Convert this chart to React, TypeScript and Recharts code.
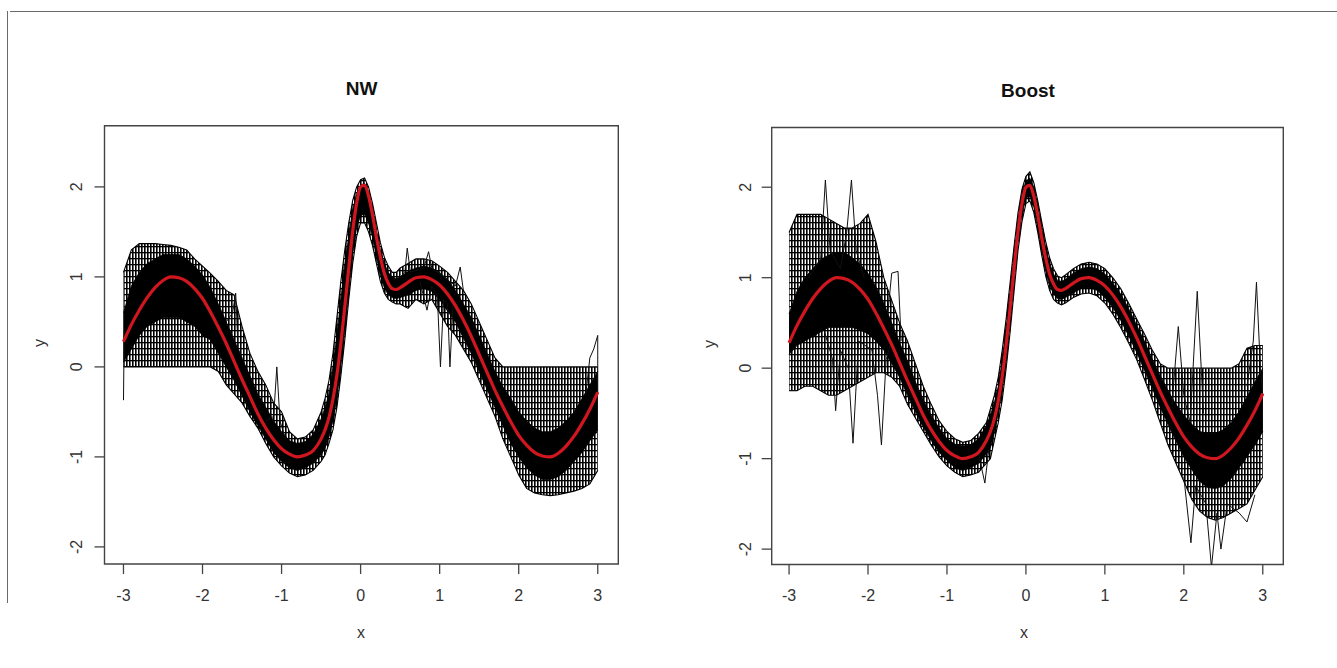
import React from 'react';
import { ComposedChart, Area, Line, XAxis, YAxis, ReferenceArea } from 'recharts';

// x grid (finer around the peak)
const xs = [
  -3.0, -2.9, -2.8, -2.7, -2.6, -2.5, -2.4, -2.3, -2.2, -2.1, -2.0, -1.9, -1.8, -1.7, -1.6, -1.5, -1.4, -1.3, -1.2, -1.1,
  -1.0, -0.9, -0.8, -0.7, -0.6, -0.5, -0.45, -0.4, -0.35, -0.3, -0.25, -0.2, -0.15, -0.1, -0.05, 0, 0.05, 0.1, 0.15, 0.2,
  0.25, 0.3, 0.35, 0.4, 0.45, 0.5, 0.6, 0.7, 0.8, 0.9, 1.0, 1.1, 1.2, 1.3, 1.4, 1.5, 1.6, 1.7, 1.8, 1.9,
  2.0, 2.1, 2.2, 2.3, 2.4, 2.5, 2.6, 2.7, 2.8, 2.9, 3.0,
];

// red curve (true function)
const trueCurve = [
  0.28, 0.47, 0.63, 0.77, 0.88, 0.96, 1.0, 0.99, 0.95, 0.87, 0.76, 0.61, 0.44, 0.26, 0.06, -0.14, -0.33, -0.52, -0.68, -0.81,
  -0.91, -0.97, -1.0, -0.98, -0.93, -0.8, -0.7, -0.56, -0.36, -0.09, 0.26, 0.67, 1.1, 1.51, 1.82, 2.0, 2.02, 1.9, 1.69, 1.44,
  1.22, 1.04, 0.93, 0.87, 0.86, 0.88, 0.94, 0.99, 1.0, 0.97, 0.91, 0.81, 0.68, 0.52, 0.34, 0.14, -0.06, -0.26, -0.44, -0.61,
  -0.76, -0.87, -0.95, -0.99, -1.0, -0.96, -0.88, -0.77, -0.63, -0.47, -0.28,
];

// NW panel: envelope of the fitted curves
const nwOuterLo = [
  0, 0, 0, 0, 0, 0, 0, 0, 0, 0, 0, 0, -0.05, -0.2, -0.3, -0.4, -0.55, -0.68, -0.85, -1.0,
  -1.1, -1.18, -1.22, -1.2, -1.15, -1.05, -0.98, -0.85, -0.7, -0.45, -0.1, 0.3, 0.75, 1.15, 1.45, 1.6, 1.6, 1.5, 1.35, 1.15,
  0.95, 0.82, 0.75, 0.72, 0.7, 0.7, 0.65, 0.75, 0.7, 0.75, 0.6, 0.45, 0.35, 0.2, 0.05, -0.15, -0.35, -0.55, -0.8, -1.0,
  -1.2, -1.35, -1.4, -1.42, -1.43, -1.42, -1.4, -1.38, -1.35, -1.3, -1.15,
];
const nwOuterHi = [
  1.05, 1.3, 1.37, 1.37, 1.37, 1.36, 1.35, 1.33, 1.3, 1.2, 1.12, 1.04, 0.95, 0.85, 0.8, 0.45, 0.15, -0.05, -0.2, -0.4,
  -0.5, -0.72, -0.8, -0.78, -0.7, -0.5, -0.35, -0.15, 0.15, 0.55, 0.95, 1.3, 1.6, 1.85, 2.0, 2.08, 2.1, 2.0, 1.82, 1.6,
  1.38, 1.22, 1.12, 1.05, 1.05, 1.1, 1.15, 1.2, 1.2, 1.18, 1.12, 1.05, 0.95, 0.85, 0.7, 0.5, 0.3, 0.1, 0, 0,
  0, 0, 0, 0, 0, 0, 0, 0, 0, 0, 0,
];
const nwCoreLo = [
  0.05, 0.2, 0.35, 0.45, 0.5, 0.55, 0.55, 0.55, 0.5, 0.45, 0.35, 0.3, 0.15, 0.0, -0.15, -0.32, -0.5, -0.65, -0.8, -0.95,
  -1.05, -1.12, -1.15, -1.12, -1.07, -0.98, -0.9, -0.78, -0.6, -0.35, 0.0, 0.4, 0.85, 1.25, 1.55, 1.68, 1.7, 1.6, 1.45, 1.22,
  1.02, 0.88, 0.8, 0.77, 0.76, 0.77, 0.8, 0.85, 0.87, 0.84, 0.75, 0.62, 0.5, 0.32, 0.15, -0.05, -0.25, -0.45, -0.65, -0.85,
  -1.0, -1.12, -1.2, -1.25, -1.25, -1.22, -1.15, -1.05, -0.95, -0.82, -0.7,
];
const nwCoreHi = [
  0.6, 0.9, 1.05, 1.15, 1.2, 1.25, 1.25, 1.25, 1.2, 1.12, 1.02, 0.88, 0.7, 0.5, 0.3, 0.1, -0.1, -0.3, -0.45, -0.6,
  -0.72, -0.82, -0.85, -0.83, -0.75, -0.58, -0.45, -0.3, 0.0, 0.35, 0.75, 1.15, 1.45, 1.75, 1.92, 2.02, 2.04, 1.95, 1.76, 1.52,
  1.3, 1.15, 1.05, 1.0, 0.98, 1.0, 1.06, 1.1, 1.12, 1.1, 1.05, 0.97, 0.85, 0.7, 0.55, 0.35, 0.15, -0.05, -0.22, -0.35,
  -0.5, -0.6, -0.68, -0.72, -0.72, -0.68, -0.6, -0.5, -0.35, -0.2, -0.05,
];

// NW stray curves [x, y]
const nwStrayA = [[-3.0, -0.37], [-2.99, 0.4]];
const nwStrayB = [[-1.7, 0.5], [-1.62, 0.6], [-1.58, 0.82], [-1.55, 0.2], [-1.5, 0.1]];
const nwStrayC = [[-1.2, -0.6], [-1.1, -0.55], [-1.06, 0.0], [-1.02, -0.6], [-0.95, -0.8]];
const nwStrayD = [[0.75, 0.95], [0.84, 0.63], [0.9, 0.9], [0.97, 0.8], [1.01, 0.0], [1.05, 0.75], [1.1, 0.7], [1.13, 0.0], [1.17, 0.7], [1.25, 0.55]];
const nwStrayE = [[0.5, 1.0], [0.56, 1.05], [0.59, 1.32], [0.63, 1.05], [0.8, 1.1], [0.86, 1.28], [0.9, 1.1], [1.2, 0.9], [1.26, 1.11], [1.3, 0.85]];
const nwStrayF = [[2.85, -0.3], [2.9, 0.1], [2.95, 0.2], [3.0, 0.35], [3.0, -0.3]];

// Boost panel envelopes
const bOuterLo = [
  -0.25, -0.25, -0.2, -0.2, -0.25, -0.3, -0.3, -0.25, -0.2, -0.15, -0.1, -0.05, -0.05, -0.1, -0.2, -0.4, -0.55, -0.7, -0.85, -0.98,
  -1.08, -1.15, -1.2, -1.18, -1.15, -1.05, -1.0, -0.8, -0.6, -0.35, 0.0, 0.4, 0.85, 1.3, 1.62, 1.82, 1.85, 1.72, 1.5, 1.25,
  1.02, 0.86, 0.76, 0.72, 0.7, 0.72, 0.78, 0.82, 0.83, 0.8, 0.72, 0.6, 0.45, 0.28, 0.1, -0.12, -0.35, -0.6, -0.85, -1.05,
  -1.25, -1.45, -1.58, -1.65, -1.68, -1.65, -1.6, -1.55, -1.5, -1.35, -1.2,
];
const bOuterHi = [
  1.5, 1.7, 1.7, 1.7, 1.7, 1.65, 1.6, 1.55, 1.55, 1.6, 1.7, 1.4, 1.0, 0.75, 0.5, 0.3, 0.05, -0.2, -0.4, -0.58,
  -0.7, -0.78, -0.82, -0.8, -0.72, -0.6, -0.45, -0.3, -0.1, 0.2, 0.55, 0.95, 1.35, 1.72, 1.98, 2.12, 2.17, 2.05, 1.85, 1.62,
  1.4, 1.22, 1.1, 1.02, 1.0, 1.03, 1.1, 1.15, 1.17, 1.15, 1.1, 1.0, 0.88, 0.72, 0.55, 0.38, 0.2, 0.05, 0, 0,
  0, 0, 0, 0, 0, 0, 0, 0.05, 0.22, 0.25, 0.25,
];
const bCoreLo = [
  0.15, 0.25, 0.3, 0.35, 0.4, 0.45, 0.45, 0.45, 0.45, 0.42, 0.38, 0.3, 0.2, 0.05, -0.1, -0.3, -0.48, -0.65, -0.8, -0.93,
  -1.02, -1.1, -1.13, -1.1, -1.05, -0.95, -0.88, -0.72, -0.5, -0.25, 0.08, 0.5, 0.95, 1.38, 1.7, 1.88, 1.9, 1.78, 1.56, 1.3,
  1.08, 0.92, 0.82, 0.77, 0.76, 0.78, 0.83, 0.88, 0.89, 0.86, 0.78, 0.67, 0.53, 0.36, 0.18, -0.02, -0.22, -0.43, -0.62, -0.8,
  -0.98, -1.12, -1.25, -1.32, -1.33, -1.3, -1.22, -1.1, -0.98, -0.85, -0.7,
];
const bCoreHi = [
  0.6, 0.85, 1.0, 1.1, 1.2, 1.25, 1.28, 1.28, 1.22, 1.15, 1.05, 0.9, 0.72, 0.5, 0.28, 0.08, -0.15, -0.35, -0.52, -0.66,
  -0.78, -0.84, -0.86, -0.85, -0.78, -0.63, -0.52, -0.38, -0.2, 0.1, 0.45, 0.85, 1.25, 1.65, 1.93, 2.07, 2.1, 2.0, 1.8, 1.56,
  1.34, 1.16, 1.04, 0.97, 0.96, 0.98, 1.05, 1.1, 1.12, 1.1, 1.04, 0.94, 0.82, 0.66, 0.48, 0.3, 0.1, -0.08, -0.25, -0.4,
  -0.52, -0.62, -0.7, -0.72, -0.72, -0.68, -0.6, -0.48, -0.32, -0.15, 0.0,
];

// Boost stray curves [x, y]
const bStrayA = [[-2.75, 1.0], [-2.6, 1.2], [-2.54, 2.08], [-2.48, 1.3], [-2.35, 1.1], [-2.27, 1.5], [-2.21, 2.08], [-2.15, 1.3], [-2.05, 1.0]];
const bStrayB = [[-2.55, 0.4], [-2.45, 0.1], [-2.41, -0.47], [-2.35, 0.2], [-2.25, 0.0], [-2.19, -0.83], [-2.12, 0.3], [-1.95, 0.2], [-1.88, -0.3], [-1.83, -0.85], [-1.77, 0.1], [-1.7, 0.3]];
const bStrayC = [[-1.75, 0.6], [-1.7, 1.05], [-1.62, 1.07], [-1.58, 0.3]];
const bStrayD = [[-0.6, -0.95], [-0.52, -1.27], [-0.47, -0.9]];
const bStrayE = [[1.85, -0.4], [1.93, 0.46], [2.0, -0.3], [2.08, -0.6], [2.17, 0.85], [2.25, -0.5]];
const bStrayF = [[2.8, -0.2], [2.88, 0.3], [2.92, 0.95], [2.97, 0.0], [3.0, -0.3]];
const bStrayG = [[2.0, -1.2], [2.09, -1.93], [2.15, -1.3], [2.28, -1.5], [2.35, -2.2], [2.42, -1.6], [2.47, -2.0], [2.55, -1.5], [2.7, -1.6], [2.8, -1.7], [2.9, -1.4]];

const xTicks = [-3, -2, -1, 0, 1, 2, 3];
const yTicks = [-2, -1, 0, 1, 2];

const FONT = '"Liberation Sans", Arial, Helvetica, sans-serif';
const RED = '#d0161f';

const toPts = (arr: number[][]) => arr.map(([x, y]) => ({ x, y }));

type PanelProps = {
  id: string;
  left: number;
  width: number;
  yAxisWidth: number;
  marginTop: number;
  marginRight: number;
  xAxisHeight: number;
  xDomain: [number, number];
  yDomain: [number, number];
  yTickMargin: number;
  outerLo: number[];
  outerHi: number[];
  coreLo: number[];
  coreHi: number[];
  strays: number[][][];
};

function Panel(p: PanelProps) {
  const table = xs.map((x, i) => ({
    x,
    truth: trueCurve[i],
    outer: [p.outerLo[i], p.outerHi[i]],
    core: [p.coreLo[i], p.coreHi[i]],
  }));
  const renderYTick = (props: any) => {
    const { x, y, payload } = props;
    return (
      <text
        x={x}
        y={y}
        transform={`rotate(-90, ${x}, ${y})`}
        textAnchor="middle"
        fontSize={16}
        fontFamily={FONT}
        fill="#333"
      >
        {payload.value}
      </text>
    );
  };
  return (
    <div style={{ position: 'absolute', left: p.left, top: 0 }}>
      <ComposedChart
        width={p.width}
        height={668}
        data={table}
        margin={{ top: p.marginTop, right: p.marginRight, bottom: 0, left: 0 }}
      >
        <defs>
          <pattern id={`mesh-${p.id}`} patternUnits="userSpaceOnUse" width={3} height={6}>
            <rect x={0} y={0} width={1.6} height={6} fill="#000" />
            <rect x={0} y={0} width={3} height={1.3} fill="#000" />
          </pattern>
        </defs>
        <XAxis
          dataKey="x"
          type="number"
          domain={p.xDomain}
          ticks={xTicks}
          interval={0}
          allowDataOverflow
          height={p.xAxisHeight}
          tickSize={10}
          tickMargin={15.4}
          axisLine={false}
          tickLine={{ stroke: '#444', strokeWidth: 1.3 }}
          tick={{ fill: '#333', fontSize: 16, fontFamily: FONT }}
        />
        <YAxis
          type="number"
          domain={p.yDomain}
          ticks={yTicks}
          interval={0}
          allowDataOverflow
          width={p.yAxisWidth}
          tickSize={10}
          tickMargin={p.yTickMargin}
          axisLine={false}
          tickLine={{ stroke: '#444', strokeWidth: 1.3 }}
          tick={renderYTick}
        />
        <Area
          dataKey="outer"
          type="linear"
          stroke="#000"
          strokeWidth={1.1}
          fill={`url(#mesh-${p.id})`}
          fillOpacity={1}
          dot={false}
          activeDot={false}
          isAnimationActive={false}
        />
        <Area
          dataKey="core"
          type="linear"
          stroke="#000"
          strokeWidth={0.8}
          fill="#000"
          fillOpacity={1}
          dot={false}
          activeDot={false}
          isAnimationActive={false}
        />
        {p.strays.map((s, k) => (
          <Line
            key={k}
            data={toPts(s)}
            dataKey="y"
            type="linear"
            stroke="#111"
            strokeWidth={1}
            dot={false}
            activeDot={false}
            isAnimationActive={false}
          />
        ))}
        <Line
          dataKey="truth"
          type="monotone"
          stroke={RED}
          strokeWidth={3.2}
          dot={false}
          activeDot={false}
          isAnimationActive={false}
        />
        <ReferenceArea
          x1={p.xDomain[0]}
          x2={p.xDomain[1]}
          y1={p.yDomain[0]}
          y2={p.yDomain[1]}
          ifOverflow="visible"
          fill="none"
          fillOpacity={0}
          stroke="#444"
          strokeWidth={1.4}
        />
      </ComposedChart>
    </div>
  );
}

const textStyle: React.CSSProperties = {
  position: 'absolute',
  fontFamily: FONT,
  textAlign: 'center',
  whiteSpace: 'nowrap',
};

export default function App() {
  return (
    <div style={{ position: 'absolute', left: 0, top: 0, width: 1337, height: 668, background: '#fff', overflow: 'hidden' }}>
      <div style={{ position: 'absolute', left: 10, top: 11, width: 1327, height: 0, borderTop: '1.5px solid #6a6a6a' }} />
      <div style={{ position: 'absolute', left: 7, top: 11, width: 0, height: 592, borderLeft: '1.5px solid #6a6a6a' }} />

      <Panel
        id="nw"
        left={0}
        width={668}
        yAxisWidth={104.5}
        marginTop={125.7}
        marginRight={49.7}
        xAxisHeight={104}
        xDomain={[-3.24, 3.26]}
        yDomain={[-2.19, 2.68]}
        yTickMargin={12.8}
        outerLo={nwOuterLo}
        outerHi={nwOuterHi}
        coreLo={nwCoreLo}
        coreHi={nwCoreHi}
        strays={[nwStrayA, nwStrayB, nwStrayC, nwStrayD, nwStrayE, nwStrayF]}
      />
      <Panel
        id="boost"
        left={668}
        width={669}
        yAxisWidth={103.7}
        marginTop={127.5}
        marginRight={53.7}
        xAxisHeight={103.5}
        xDomain={[-3.22, 3.26]}
        yDomain={[-2.17, 2.66]}
        yTickMargin={10.2}
        outerLo={bOuterLo}
        outerHi={bOuterHi}
        coreLo={bCoreLo}
        coreHi={bCoreHi}
        strays={[bStrayA, bStrayB, bStrayC, bStrayD, bStrayE, bStrayF, bStrayG]}
      />

      <div style={{ ...textStyle, left: 261.7, top: 79.2, width: 200, height: 20, lineHeight: '20px', fontSize: 19, fontWeight: 'bold', color: '#111' }}>NW</div>
      <div style={{ ...textStyle, left: 928, top: 80.5, width: 200, height: 20, lineHeight: '20px', fontSize: 19, fontWeight: 'bold', color: '#111' }}>Boost</div>

      <div style={{ ...textStyle, left: 311, top: 623, width: 100, height: 20, lineHeight: '20px', fontSize: 16, color: '#333' }}>x</div>
      <div style={{ ...textStyle, left: 974, top: 623, width: 100, height: 20, lineHeight: '20px', fontSize: 16, color: '#333' }}>x</div>

      <div style={{ ...textStyle, left: 20, top: 333, width: 40, height: 20, lineHeight: '20px', fontSize: 16, color: '#333', transform: 'rotate(-90deg)' }}>y</div>
      <div style={{ ...textStyle, left: 690, top: 334, width: 40, height: 20, lineHeight: '20px', fontSize: 16, color: '#333', transform: 'rotate(-90deg)' }}>y</div>
    </div>
  );
}
